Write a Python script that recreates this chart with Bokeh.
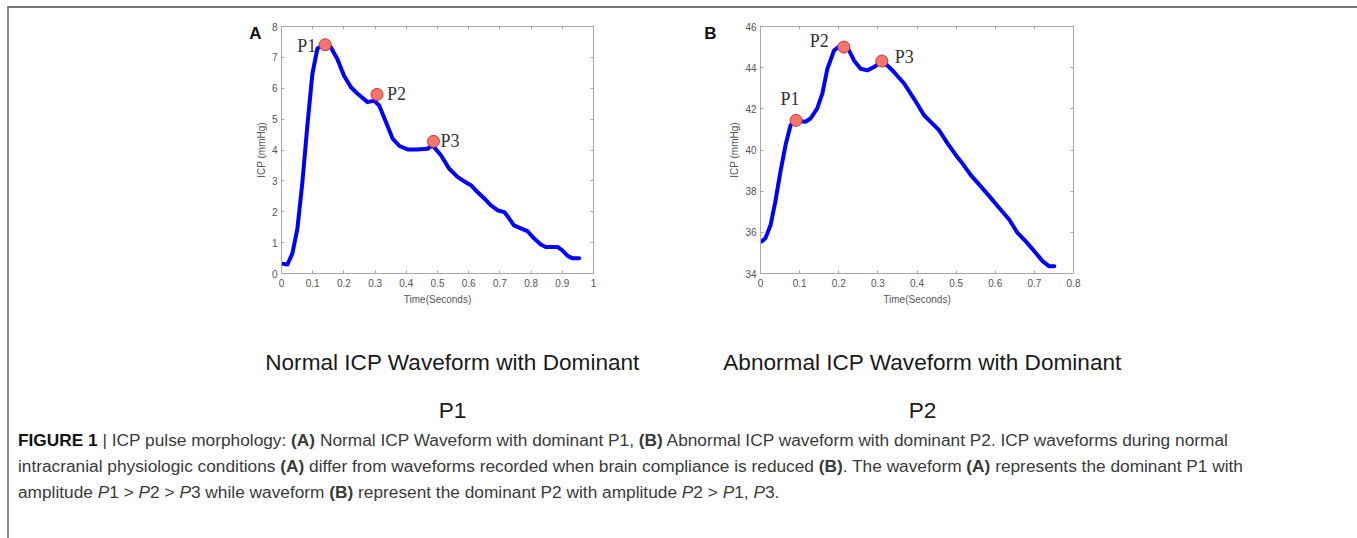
from bokeh.plotting import figure
from bokeh.models import Range1d, FixedTicker, LinearAxis, Div, CustomJSTickFormatter
from bokeh.layouts import row, column
from bokeh.embed import file_html
from bokeh.resources import INLINE
from bokeh.core.properties import value

# ---------------- data ----------------
time_a = [0.0, 0.019, 0.035, 0.051, 0.067, 0.083, 0.099, 0.115, 0.137, 0.158, 0.179, 0.2,
          0.222, 0.244, 0.276, 0.297, 0.313, 0.335, 0.356, 0.378, 0.404, 0.436, 0.468, 0.484,
          0.511, 0.537, 0.564, 0.585, 0.607, 0.628, 0.65, 0.671, 0.692, 0.714, 0.73, 0.745,
          0.767, 0.788, 0.81, 0.831, 0.847, 0.885, 0.9, 0.917, 0.933, 0.954]
icp_a = [0.32, 0.29, 0.65, 1.46, 2.96, 4.8, 6.47, 7.28, 7.44, 7.33, 6.95, 6.41,
         6.04, 5.82, 5.55, 5.6, 5.44, 4.9, 4.37, 4.13, 4.02, 4.02, 4.04, 4.15,
         3.83, 3.4, 3.13, 2.99, 2.86, 2.64, 2.43, 2.21, 2.05, 1.99, 1.78, 1.56,
         1.46, 1.37, 1.13, 0.94, 0.86, 0.86, 0.75, 0.57, 0.49, 0.49]
peak_time_a = [0.14, 0.306, 0.487]
peak_icp_a = [7.41, 5.8, 4.28]

time_b = [0.003, 0.013, 0.026, 0.038, 0.051, 0.064, 0.077, 0.09, 0.102, 0.115, 0.128, 0.145,
          0.158, 0.171, 0.188, 0.205, 0.222, 0.239, 0.256, 0.273, 0.29, 0.307, 0.324, 0.341,
          0.367, 0.392, 0.418, 0.435, 0.456, 0.478, 0.499, 0.516, 0.537, 0.563, 0.589, 0.614,
          0.636, 0.657, 0.678, 0.7, 0.721, 0.738, 0.751]
icp_b = [35.56, 35.73, 36.37, 37.5, 38.95, 40.24, 41.21, 41.45, 41.4, 41.37, 41.53, 42.02,
         42.74, 43.95, 44.84, 45.08, 45.0, 44.35, 43.95, 43.87, 44.03, 44.27, 44.11, 43.79,
         43.23, 42.5, 41.69, 41.37, 40.97, 40.32, 39.76, 39.35, 38.79, 38.23, 37.66, 37.1,
         36.61, 35.97, 35.56, 35.08, 34.6, 34.35, 34.35]
peak_time_b = [0.091, 0.213, 0.31]
peak_icp_b = [41.44, 45.0, 44.32]

peak_names = ["P1", "P2", "P3"]

xticks_a = [0, 0.1, 0.2, 0.3, 0.4, 0.5, 0.6, 0.7, 0.8, 0.9, 1]
xlabels_a = ["0", "0.1", "0.2", "0.3", "0.4", "0.5", "0.6", "0.7", "0.8", "0.9", "1"]
yticks_a = [0, 1, 2, 3, 4, 5, 6, 7, 8]
ylabels_a = ["0", "1", "2", "3", "4", "5", "6", "7", "8"]
xticks_b = [0, 0.1, 0.2, 0.3, 0.4, 0.5, 0.6, 0.7, 0.8]
xlabels_b = ["0", "0.1", "0.2", "0.3", "0.4", "0.5", "0.6", "0.7", "0.8"]
yticks_b = [34, 36, 38, 40, 42, 44, 46]
ylabels_b = ["34", "36", "38", "40", "42", "44", "46"]

x_title = "Time(Seconds)"
y_title = "ICP (mmHg)"
panel_letters = ["A", "B"]
subtitles = [["Normal ICP Waveform with Dominant", "P1"],
             ["Abnormal ICP Waveform with Dominant", "P2"]]

# ---------------- styling ----------------
AX = "#a8a8a8"
TXT = "#555555"
SANS = "Liberation Sans"
ROW_H = 322
SUB_H = 95
TOTAL_W = 1345


def style_axis(ax, ticks, labels):
    ax.ticker = FixedTicker(ticks=ticks)
    ax.major_label_overrides = dict(zip(ticks, labels))
    ax.axis_line_color = AX
    ax.major_tick_line_color = AX
    ax.major_tick_in = 3
    ax.major_tick_out = 0
    ax.minor_tick_line_color = None
    ax.major_label_text_font = SANS
    ax.major_label_text_font_size = "10px"
    ax.major_label_text_color = TXT
    ax.axis_label_text_font = SANS
    ax.axis_label_text_font_size = "10px"
    ax.axis_label_text_font_style = "normal"
    ax.axis_label_text_color = TXT


def box_axis(ticks):
    return LinearAxis(ticker=FixedTicker(ticks=ticks),
                      formatter=CustomJSTickFormatter(code="return ''"),
                      axis_line_color=AX, major_tick_line_color=AX,
                      major_tick_in=3, major_tick_out=0, minor_tick_line_color=None,
                      major_label_standoff=0, major_label_text_font_size="1px")


def blank(width, height):
    p = figure(width=width, height=height, x_range=Range1d(0, width), y_range=Range1d(height, 0),
               x_axis_location=None, y_axis_location=None, min_border=0, title=None,
               output_backend="svg", toolbar_location=None, tools="")
    p.grid.visible = False
    p.outline_line_color = None
    return p


def letter_fig(width, letter, x):
    p = blank(width, ROW_H)
    p.text([x], [9], text=[letter], text_align="center", text_baseline="middle",
           text_font=value(SANS), text_font_size="17px", text_font_style="bold",
           text_color="#111111")
    return p


def panel(t, v, pt, pv, xr, yr, xt, xl, yt, yl, left, fw, right, label_spec, margin_left=0):
    p = figure(frame_width=fw, frame_height=247,
               x_range=Range1d(*xr), y_range=Range1d(*yr),
               min_border_left=left, min_border_right=right,
               min_border_top=18, min_border_bottom=ROW_H - 18 - 247, title=None,
               margin=(0, 0, 0, margin_left),
               output_backend="svg", toolbar_location=None, tools="")
    p.grid.visible = False
    p.outline_line_color = AX
    p.border_fill_color = None
    style_axis(p.xaxis[0], xt, xl)
    style_axis(p.yaxis[0], yt, yl)
    p.xaxis[0].axis_label = x_title
    p.yaxis[0].axis_label = y_title
    p.xaxis[0].major_label_standoff = 5
    p.yaxis[0].major_label_standoff = 4
    p.yaxis[0].axis_label_standoff = 2
    p.xaxis[0].axis_label_standoff = 4
    p.add_layout(box_axis(yt), "right")
    p.add_layout(box_axis(xt), "above")

    p.line(t, v, line_color="#0000ff", line_width=4, line_join="round", line_cap="round")
    p.scatter(pt, pv, size=12, fill_color="#f3766e", line_color="#d2352d", line_width=1)
    for i, name in enumerate(peak_names):
        align, dx, dy = label_spec[i]
        p.text([pt[i]], [pv[i]], text=[name], x_offset=dx, y_offset=dy,
               text_align=align, text_baseline="middle",
               text_font=value("Liberation Serif"), text_font_size="18px",
               text_color="#333333")
    return p


# row 1: [letter A pad 9..262] [fig A 251..700, overlapping pad by 11px] [letter B pad 700..722] [fig B 722..1354]
pad_a = letter_fig(253, panel_letters[0], 246)
fig_a = panel(time_a, icp_a, peak_time_a, peak_icp_a, (0, 1), (0, 8),
              xticks_a, xlabels_a, yticks_a, ylabels_a, 30, 312, 107,
              [("right", -9, 1), ("left", 10, 0), ("left", 7, 0)], margin_left=-11)
pad_b = letter_fig(22, panel_letters[1], 10)
fig_b = panel(time_b, icp_b, peak_time_b, peak_icp_b, (0, 0.8), (34, 46),
              xticks_b, xlabels_b, yticks_b, ylabels_b, 38, 313, 281,
              [("center", -6, -21), ("right", -15, -6), ("left", 13, -4)])

sub = blank(TOTAL_W, SUB_H)
sub_cx = [443, 913]
sub_y = [32, 80]
for cx, lines in zip(sub_cx, subtitles):
    sub.text([cx, cx], sub_y, text=lines, text_align="center", text_baseline="middle",
             text_font=value(SANS), text_font_size="22.6px", text_color="#1a1a1a")

caption_html = (
    '<div style="font-family:\'Liberation Sans\',Arial,sans-serif;font-size:17.3px;'
    'line-height:26px;color:#3a3a3a;padding:0 0 0 4px;position:relative;top:-3px;white-space:nowrap;">'
    '<b style="color:#111">FIGURE 1</b> | ICP pulse morphology: <b>(A)</b> Normal ICP Waveform with dominant P1, '
    '<b>(B)</b> Abnormal ICP waveform with dominant P2. ICP waveforms during normal<br>'
    'intracranial physiologic conditions <b>(A)</b> differ from waveforms recorded when brain compliance is reduced '
    '<b>(B)</b>. The waveform <b>(A)</b> represents the dominant P1 with<br>'
    'amplitude <i>P</i>1 &gt; <i>P</i>2 &gt; <i>P</i>3 while waveform <b>(B)</b> represent the dominant P2 with '
    'amplitude <i>P</i>2 &gt; <i>P</i>1, <i>P</i>3.'
    '</div>'
)
caption = Div(text=caption_html, width=TOTAL_W, height=108)

layout = column(row(pad_a, fig_a, pad_b, fig_b), sub, caption,
                margin=(6, 0, 0, 7),
                styles={"border-top": "2px solid #7a7a7a", "border-left": "2px solid #8a8a8a",
                        "border-right": "2px solid #8a8a8a"})

open("out.html", "w").write(file_html(layout, INLINE))
